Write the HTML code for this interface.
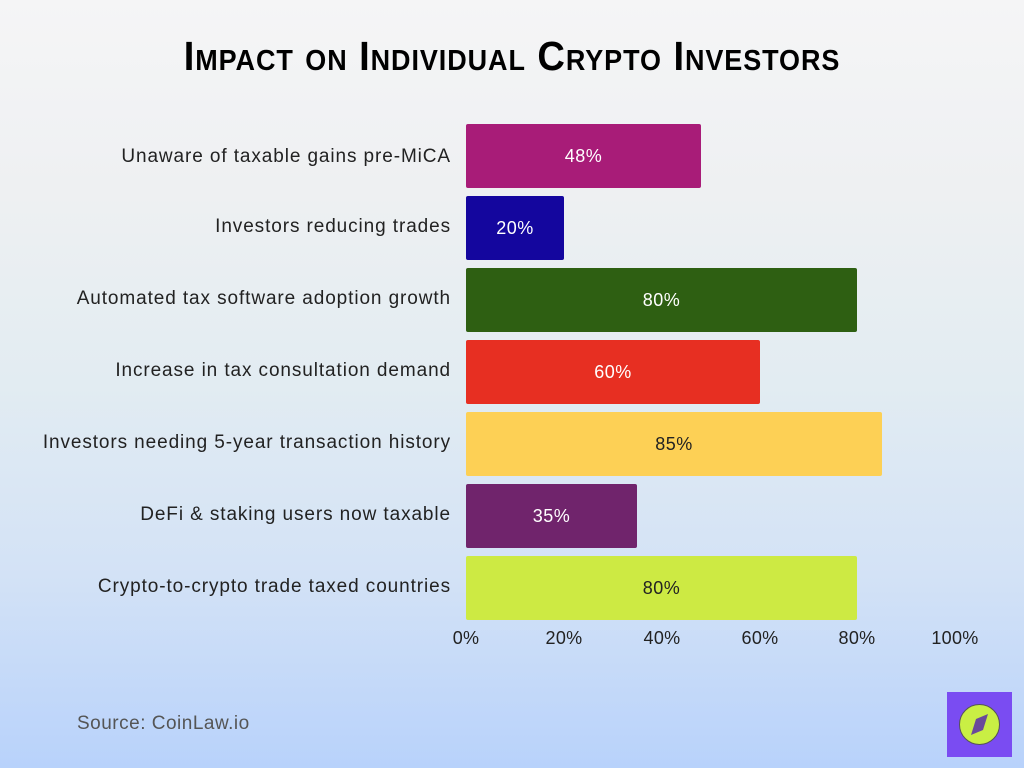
<!DOCTYPE html>
<html><head><meta charset="utf-8"><style>
body{margin:0;width:1024px;height:768px;overflow:hidden;font-family:"Liberation Sans",sans-serif;
background:linear-gradient(180deg,#f5f5f6 0%,#eef0f2 25%,#e2ecf2 50%,#d3e2f6 75%,#b8d2fb 100%);position:relative}
.t{position:absolute;left:0;width:1024px;top:33px;text-align:center;font-family:"Liberation Sans Narrow","Liberation Sans",sans-serif;font-weight:bold;font-variant:small-caps;font-size:41px;letter-spacing:1px;color:#000;transform:scaleX(0.93)}
.l{position:absolute;right:573px;font-size:19px;letter-spacing:0.9px;color:#222;white-space:nowrap;line-height:20px}
.b{position:absolute;left:466px;height:64px;border-radius:2px;color:#fff;font-size:18px;letter-spacing:0.5px;display:flex;align-items:center;justify-content:center}
.x{position:absolute;top:628px;font-size:18px;letter-spacing:0.3px;color:#222;width:80px;text-align:center}
</style></head><body>
<div class="t">Impact on Individual Crypto Investors</div>

<div class="l" style="top:147px">Unaware of taxable gains pre-MiCA</div>
<div class="l" style="top:217px">Investors reducing trades</div>
<div class="l" style="top:289px">Automated tax software adoption growth</div>
<div class="l" style="top:361px">Increase in tax consultation demand</div>
<div class="l" style="top:433px">Investors needing 5-year transaction history</div>
<div class="l" style="top:505px">DeFi &amp; staking users now taxable</div>
<div class="l" style="top:577px">Crypto-to-crypto trade taxed countries</div>

<div class="b" style="top:124px;width:235px;background:#a81c78">48%</div>
<div class="b" style="top:196px;width:98px;background:#14069e">20%</div>
<div class="b" style="top:268px;width:391px;background:#2e5f12">80%</div>
<div class="b" style="top:340px;width:294px;background:#e72f22">60%</div>
<div class="b" style="top:412px;width:416px;background:#fdd055;color:#222">85%</div>
<div class="b" style="top:484px;width:171px;background:#70246c">35%</div>
<div class="b" style="top:556px;width:391px;background:#cdea43;color:#222">80%</div>

<div class="x" style="left:426px">0%</div>
<div class="x" style="left:524px">20%</div>
<div class="x" style="left:622px">40%</div>
<div class="x" style="left:720px">60%</div>
<div class="x" style="left:817px">80%</div>
<div class="x" style="left:915px">100%</div>

<div style="position:absolute;left:77px;top:713px;font-size:19px;letter-spacing:0.5px;color:#555">Source: CoinLaw.io</div>
<div style="position:absolute;left:947px;top:692px;width:65px;height:65px;background:#7a4cf2">
<svg width="65" height="65"><circle cx="32.5" cy="32.5" r="20" fill="#c9ef44" stroke="#555" stroke-width="1"/><polygon points="41,22 36,38 24,43 29,27" fill="#6a4a9a"/></svg></div>
</body></html>
